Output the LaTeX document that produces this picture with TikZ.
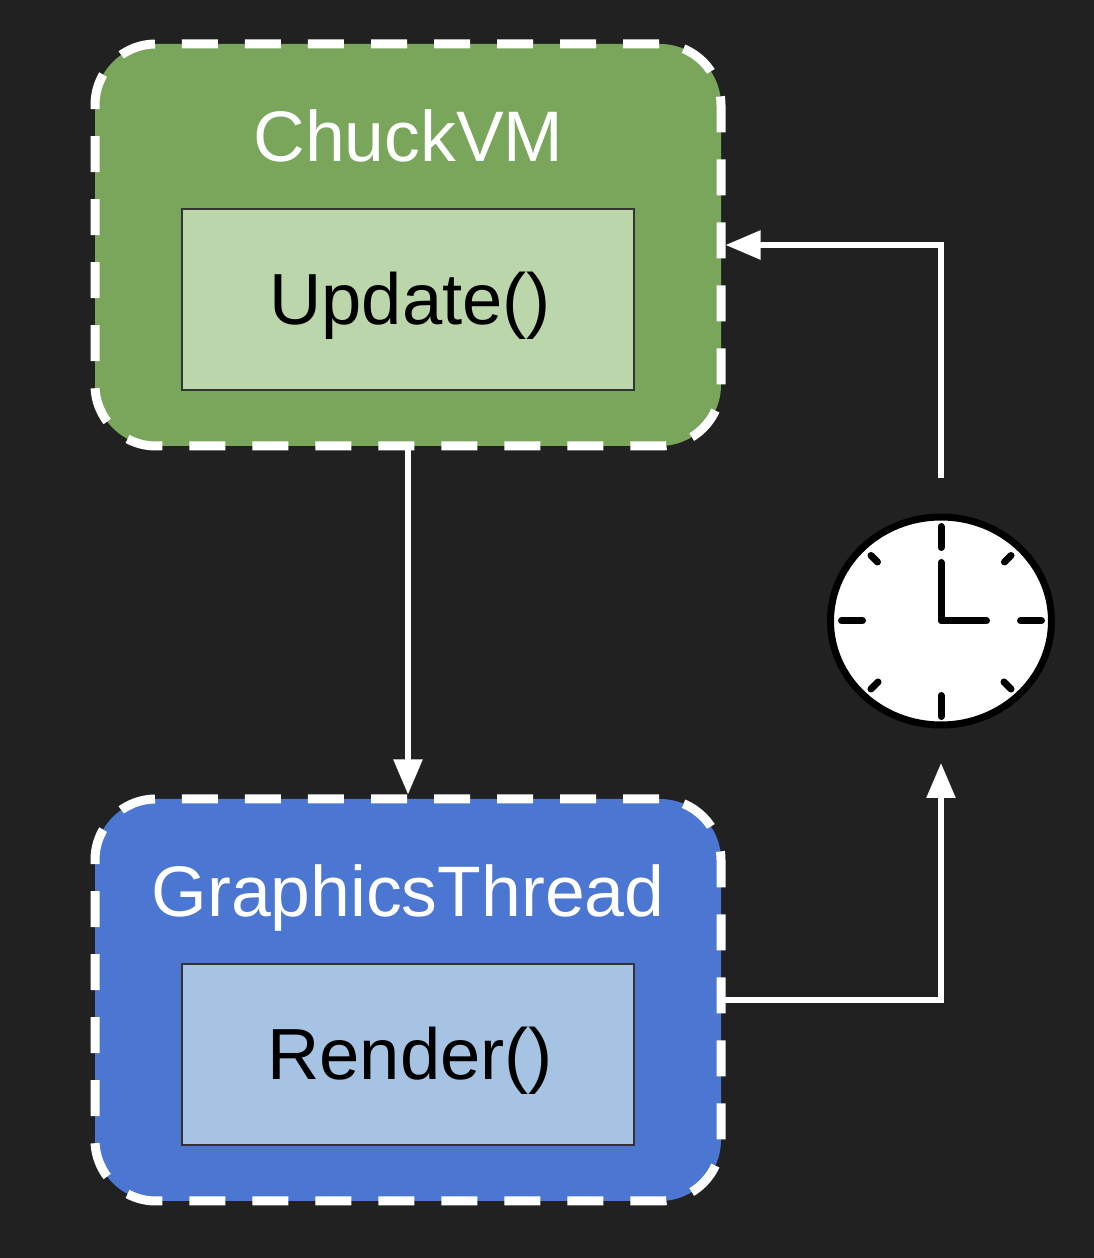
\documentclass[tikz,border=0pt]{standalone}
\usepackage{fontspec}
\setmainfont{Liberation Sans}
\usetikzlibrary{arrows.meta,shapes.geometric}
\definecolor{canvas}{HTML}{212121}
\definecolor{vmgreen}{HTML}{7AA65C}
\definecolor{vmlight}{HTML}{BBD6AB}
\definecolor{gfxblue}{HTML}{4B76D1}
\definecolor{gfxlight}{HTML}{A7C3E4}
\definecolor{edgegray}{HTML}{333333}
\tikzset{
	thread/.style={draw=white, line width=0.09cm, dash pattern=on 0.36cm off 0.27cm, dash phase=0.62cm,
		rounded corners=0.61cm, minimum width=6.26cm, minimum height=4.02cm},
	method/.style={draw=edgegray, line width=0.027cm, minimum width=4.52cm, minimum height=1.81cm,
		text height=0.62cm, text depth=0.11cm, inner sep=0pt, font=\fontsize{20.6}{24}\selectfont},
	title/.style={text=white, anchor=base, inner sep=0pt, font=\fontsize{20.35}{24}\selectfont},
	flow/.style={draw=white, line width=0.055cm, shorten <=-0.05cm, -{Triangle[length=0.35cm,width=0.28cm]}},
	tick/.style={line width=0.07cm, line cap=round}
}
\begin{document}
\begin{tikzpicture}
\fill [canvas] (0, 0) rectangle (10.94, 12.58);

\node [thread, fill=vmgreen] (chuckvm) at (4.08, 10.13) {};
\node [thread, fill=gfxblue] (graphics) at (4.08, 2.58) {};
\node [method, fill=vmlight] (update) at (4.08, 9.585) {\kern0.045cm Update()};
\node [method, fill=gfxlight] (render) at (4.08, 2.035) {\kern0.045cm Render()};
\node [title] (vmtitle) at (4.085, 10.965) {ChuckVM};
\node [title] (gfxtitle) at (4.08, 3.415) {GraphicsThread};

% clock
\node [ellipse, draw=black, fill=white, line width=0.07cm, minimum width=2.21cm, minimum height=2.08cm, inner sep=0pt] (clock) at (9.41, 6.37) {};
\foreach \xa/\ya/\xb/\yb in {
	0/0.945/0/0.735,
	0/-0.955/0/-0.745,
	-0.995/0/-0.785/0,
	1.005/0/0.795/0,
	-0.70/0.655/-0.635/0.59,
	0.70/0.655/0.635/0.59,
	-0.70/-0.68/-0.63/-0.61,
	0.70/-0.68/0.63/-0.61
	} {
	\draw [tick] ([shift={(\xa, \ya)}]clock.center) -- ([shift={(\xb, \yb)}]clock.center);
}
\draw [tick, line join=round] ([yshift=0.585cm]clock.center) -- (clock.center) -- ([xshift=0.455cm]clock.center);

\coordinate (clockout) at (9.41, 7.85);
\coordinate (clockin) at (9.41, 4.95);
\draw [flow] (chuckvm) -- (graphics);
\draw [flow] (clockout) |- (chuckvm.east);
\draw [flow] (graphics.east) -| (clockin);
\end{tikzpicture}
\end{document}
